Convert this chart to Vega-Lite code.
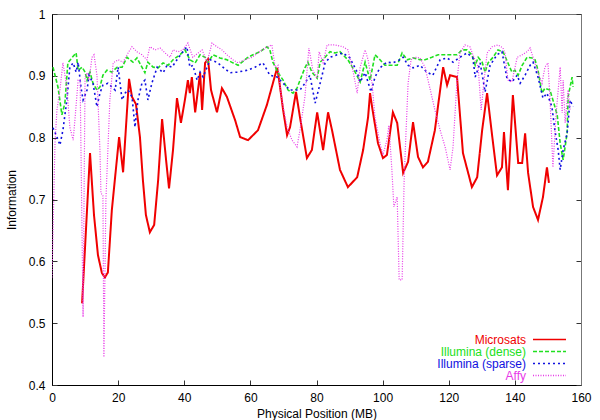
{
"$schema":"https://vega.github.io/schema/vega-lite/v6.json",
"width":529,"height":371,
"autosize":{"type":"none"},
"padding":{"left":52,"top":14,"right":19,"bottom":35},
"background":"white",
"config":{"view":{"stroke":"#777"},"axis":{"grid":false},"font":"Liberation Sans"},
"data":{"values":[
{"series":"Microsats","pos":9.1,"info":0.532},{"series":"Microsats","pos":11.5,"info":0.775},{"series":"Microsats","pos":12.7,"info":0.675},{"series":"Microsats","pos":13.9,"info":0.61},{"series":"Microsats","pos":15.1,"info":0.581},{"series":"Microsats","pos":16.0,"info":0.574},{"series":"Microsats","pos":16.9,"info":0.582},{"series":"Microsats","pos":18.1,"info":0.683},{"series":"Microsats","pos":20.3,"info":0.801},{"series":"Microsats","pos":21.5,"info":0.744},{"series":"Microsats","pos":23.3,"info":0.895},{"series":"Microsats","pos":24.2,"info":0.866},{"series":"Microsats","pos":25.4,"info":0.854},{"series":"Microsats","pos":26.6,"info":0.801},{"series":"Microsats","pos":27.5,"info":0.731},{"series":"Microsats","pos":28.4,"info":0.675},{"series":"Microsats","pos":29.6,"info":0.647},{"series":"Microsats","pos":30.9,"info":0.659},{"series":"Microsats","pos":32.1,"info":0.731},{"series":"Microsats","pos":33.3,"info":0.83},{"series":"Microsats","pos":34.5,"info":0.764},{"series":"Microsats","pos":35.4,"info":0.718},{"series":"Microsats","pos":36.6,"info":0.78},{"series":"Microsats","pos":37.8,"info":0.864},{"series":"Microsats","pos":39.0,"info":0.824},{"series":"Microsats","pos":40.2,"info":0.861},{"series":"Microsats","pos":41.1,"info":0.893},{"series":"Microsats","pos":41.7,"info":0.872},{"series":"Microsats","pos":42.3,"info":0.898},{"series":"Microsats","pos":43.3,"info":0.841},{"series":"Microsats","pos":44.8,"info":0.905},{"series":"Microsats","pos":45.4,"info":0.845},{"series":"Microsats","pos":46.3,"info":0.921},{"series":"Microsats","pos":47.2,"info":0.927},{"series":"Microsats","pos":48.1,"info":0.877},{"series":"Microsats","pos":49.9,"info":0.841},{"series":"Microsats","pos":51.4,"info":0.88},{"series":"Microsats","pos":52.9,"info":0.866},{"series":"Microsats","pos":55.4,"info":0.828},{"series":"Microsats","pos":56.9,"info":0.801},{"series":"Microsats","pos":59.3,"info":0.796},{"series":"Microsats","pos":62.3,"info":0.812},{"series":"Microsats","pos":65.0,"info":0.853},{"series":"Microsats","pos":68.1,"info":0.913},{"series":"Microsats","pos":68.7,"info":0.893},{"series":"Microsats","pos":69.9,"info":0.845},{"series":"Microsats","pos":71.1,"info":0.804},{"series":"Microsats","pos":72.0,"info":0.817},{"series":"Microsats","pos":73.8,"info":0.874},{"series":"Microsats","pos":75.0,"info":0.833},{"series":"Microsats","pos":77.1,"info":0.767},{"series":"Microsats","pos":78.6,"info":0.78},{"series":"Microsats","pos":80.2,"info":0.841},{"series":"Microsats","pos":82.0,"info":0.78},{"series":"Microsats","pos":83.5,"info":0.841},{"series":"Microsats","pos":84.7,"info":0.812},{"series":"Microsats","pos":87.1,"info":0.748},{"series":"Microsats","pos":89.5,"info":0.72},{"series":"Microsats","pos":92.3,"info":0.736},{"series":"Microsats","pos":94.1,"info":0.78},{"series":"Microsats","pos":95.6,"info":0.833},{"series":"Microsats","pos":96.2,"info":0.872},{"series":"Microsats","pos":96.8,"info":0.85},{"series":"Microsats","pos":98.6,"info":0.791},{"series":"Microsats","pos":100.1,"info":0.767},{"series":"Microsats","pos":101.3,"info":0.772},{"series":"Microsats","pos":103.1,"info":0.841},{"series":"Microsats","pos":104.4,"info":0.824},{"series":"Microsats","pos":106.2,"info":0.743},{"series":"Microsats","pos":107.7,"info":0.761},{"series":"Microsats","pos":109.2,"info":0.825},{"series":"Microsats","pos":110.7,"info":0.769},{"series":"Microsats","pos":112.2,"info":0.752},{"series":"Microsats","pos":113.7,"info":0.761},{"series":"Microsats","pos":115.8,"info":0.812},{"series":"Microsats","pos":118.3,"info":0.914},{"series":"Microsats","pos":119.5,"info":0.885},{"series":"Microsats","pos":120.4,"info":0.901},{"series":"Microsats","pos":122.5,"info":0.898},{"series":"Microsats","pos":124.3,"info":0.775},{"series":"Microsats","pos":127.0,"info":0.72},{"series":"Microsats","pos":128.6,"info":0.736},{"series":"Microsats","pos":130.1,"info":0.812},{"series":"Microsats","pos":131.6,"info":0.872},{"series":"Microsats","pos":133.4,"info":0.791},{"series":"Microsats","pos":134.6,"info":0.739},{"series":"Microsats","pos":136.1,"info":0.752},{"series":"Microsats","pos":136.7,"info":0.809},{"series":"Microsats","pos":137.9,"info":0.715},{"series":"Microsats","pos":139.4,"info":0.869},{"series":"Microsats","pos":141.0,"info":0.759},{"series":"Microsats","pos":142.2,"info":0.759},{"series":"Microsats","pos":143.1,"info":0.807},{"series":"Microsats","pos":144.0,"info":0.743},{"series":"Microsats","pos":145.5,"info":0.688},{"series":"Microsats","pos":147.0,"info":0.667},{"series":"Microsats","pos":148.5,"info":0.704},{"series":"Microsats","pos":149.7,"info":0.752},{"series":"Microsats","pos":150.3,"info":0.727},
{"series":"Illumina (dense)","pos":0.3,"info":0.914},{"series":"Illumina (dense)","pos":1.8,"info":0.882},{"series":"Illumina (dense)","pos":3.0,"info":0.837},{"series":"Illumina (dense)","pos":3.9,"info":0.856},{"series":"Illumina (dense)","pos":4.8,"info":0.921},{"series":"Illumina (dense)","pos":6.0,"info":0.929},{"series":"Illumina (dense)","pos":7.3,"info":0.937},{"series":"Illumina (dense)","pos":7.9,"info":0.909},{"series":"Illumina (dense)","pos":9.1,"info":0.914},{"series":"Illumina (dense)","pos":10.0,"info":0.906},{"series":"Illumina (dense)","pos":10.6,"info":0.893},{"series":"Illumina (dense)","pos":11.5,"info":0.906},{"series":"Illumina (dense)","pos":12.4,"info":0.888},{"series":"Illumina (dense)","pos":13.6,"info":0.877},{"series":"Illumina (dense)","pos":14.5,"info":0.882},{"series":"Illumina (dense)","pos":15.4,"info":0.901},{"series":"Illumina (dense)","pos":16.6,"info":0.909},{"series":"Illumina (dense)","pos":18.1,"info":0.906},{"series":"Illumina (dense)","pos":19.7,"info":0.914},{"series":"Illumina (dense)","pos":21.2,"info":0.914},{"series":"Illumina (dense)","pos":22.7,"info":0.93},{"series":"Illumina (dense)","pos":23.6,"info":0.926},{"series":"Illumina (dense)","pos":24.5,"info":0.922},{"series":"Illumina (dense)","pos":25.7,"info":0.929},{"series":"Illumina (dense)","pos":27.2,"info":0.914},{"series":"Illumina (dense)","pos":28.1,"info":0.905},{"series":"Illumina (dense)","pos":29.0,"info":0.922},{"series":"Illumina (dense)","pos":30.6,"info":0.914},{"series":"Illumina (dense)","pos":32.1,"info":0.913},{"series":"Illumina (dense)","pos":33.6,"info":0.921},{"series":"Illumina (dense)","pos":35.1,"info":0.917},{"series":"Illumina (dense)","pos":36.6,"info":0.926},{"series":"Illumina (dense)","pos":38.7,"info":0.934},{"series":"Illumina (dense)","pos":40.2,"info":0.942},{"series":"Illumina (dense)","pos":41.7,"info":0.926},{"series":"Illumina (dense)","pos":43.3,"info":0.921},{"series":"Illumina (dense)","pos":44.8,"info":0.934},{"series":"Illumina (dense)","pos":46.3,"info":0.93},{"series":"Illumina (dense)","pos":47.2,"info":0.922},{"series":"Illumina (dense)","pos":48.7,"info":0.934},{"series":"Illumina (dense)","pos":50.8,"info":0.929},{"series":"Illumina (dense)","pos":52.9,"info":0.926},{"series":"Illumina (dense)","pos":54.7,"info":0.921},{"series":"Illumina (dense)","pos":56.3,"info":0.917},{"series":"Illumina (dense)","pos":59.0,"info":0.929},{"series":"Illumina (dense)","pos":60.8,"info":0.934},{"series":"Illumina (dense)","pos":62.9,"info":0.939},{"series":"Illumina (dense)","pos":65.0,"info":0.947},{"series":"Illumina (dense)","pos":65.9,"info":0.942},{"series":"Illumina (dense)","pos":66.8,"info":0.922},{"series":"Illumina (dense)","pos":68.4,"info":0.905},{"series":"Illumina (dense)","pos":69.9,"info":0.893},{"series":"Illumina (dense)","pos":71.4,"info":0.877},{"series":"Illumina (dense)","pos":72.9,"info":0.872},{"series":"Illumina (dense)","pos":74.1,"info":0.88},{"series":"Illumina (dense)","pos":75.6,"info":0.901},{"series":"Illumina (dense)","pos":76.5,"info":0.913},{"series":"Illumina (dense)","pos":77.4,"info":0.922},{"series":"Illumina (dense)","pos":78.6,"info":0.906},{"series":"Illumina (dense)","pos":80.2,"info":0.896},{"series":"Illumina (dense)","pos":81.1,"info":0.922},{"series":"Illumina (dense)","pos":82.6,"info":0.93},{"series":"Illumina (dense)","pos":84.1,"info":0.939},{"series":"Illumina (dense)","pos":85.6,"info":0.937},{"series":"Illumina (dense)","pos":87.1,"info":0.939},{"series":"Illumina (dense)","pos":88.0,"info":0.934},{"series":"Illumina (dense)","pos":89.5,"info":0.926},{"series":"Illumina (dense)","pos":91.7,"info":0.906},{"series":"Illumina (dense)","pos":93.2,"info":0.89},{"series":"Illumina (dense)","pos":94.7,"info":0.922},{"series":"Illumina (dense)","pos":96.2,"info":0.893},{"series":"Illumina (dense)","pos":97.7,"info":0.934},{"series":"Illumina (dense)","pos":99.2,"info":0.926},{"series":"Illumina (dense)","pos":100.7,"info":0.917},{"series":"Illumina (dense)","pos":102.8,"info":0.917},{"series":"Illumina (dense)","pos":104.4,"info":0.917},{"series":"Illumina (dense)","pos":105.9,"info":0.937},{"series":"Illumina (dense)","pos":107.4,"info":0.926},{"series":"Illumina (dense)","pos":109.2,"info":0.929},{"series":"Illumina (dense)","pos":111.3,"info":0.926},{"series":"Illumina (dense)","pos":112.8,"info":0.926},{"series":"Illumina (dense)","pos":114.9,"info":0.93},{"series":"Illumina (dense)","pos":116.8,"info":0.934},{"series":"Illumina (dense)","pos":119.5,"info":0.934},{"series":"Illumina (dense)","pos":122.5,"info":0.934},{"series":"Illumina (dense)","pos":124.0,"info":0.942},{"series":"Illumina (dense)","pos":125.5,"info":0.942},{"series":"Illumina (dense)","pos":127.0,"info":0.934},{"series":"Illumina (dense)","pos":128.0,"info":0.917},{"series":"Illumina (dense)","pos":128.9,"info":0.93},{"series":"Illumina (dense)","pos":130.1,"info":0.922},{"series":"Illumina (dense)","pos":131.0,"info":0.906},{"series":"Illumina (dense)","pos":131.9,"info":0.921},{"series":"Illumina (dense)","pos":133.4,"info":0.93},{"series":"Illumina (dense)","pos":134.9,"info":0.942},{"series":"Illumina (dense)","pos":136.4,"info":0.939},{"series":"Illumina (dense)","pos":137.9,"info":0.921},{"series":"Illumina (dense)","pos":139.1,"info":0.906},{"series":"Illumina (dense)","pos":140.0,"info":0.909},{"series":"Illumina (dense)","pos":141.0,"info":0.901},{"series":"Illumina (dense)","pos":142.2,"info":0.917},{"series":"Illumina (dense)","pos":143.7,"info":0.93},{"series":"Illumina (dense)","pos":145.2,"info":0.929},{"series":"Illumina (dense)","pos":146.1,"info":0.926},{"series":"Illumina (dense)","pos":147.0,"info":0.909},{"series":"Illumina (dense)","pos":148.2,"info":0.872},{"series":"Illumina (dense)","pos":149.1,"info":0.88},{"series":"Illumina (dense)","pos":150.6,"info":0.877},{"series":"Illumina (dense)","pos":151.5,"info":0.861},{"series":"Illumina (dense)","pos":152.8,"info":0.837},{"series":"Illumina (dense)","pos":153.7,"info":0.791},{"series":"Illumina (dense)","pos":154.6,"info":0.764},{"series":"Illumina (dense)","pos":155.8,"info":0.807},{"series":"Illumina (dense)","pos":156.1,"info":0.866},{"series":"Illumina (dense)","pos":157.3,"info":0.898},{"series":"Illumina (dense)","pos":157.6,"info":0.882},
{"series":"Illumina (sparse)","pos":0.3,"info":0.816},{"series":"Illumina (sparse)","pos":1.5,"info":0.801},{"series":"Illumina (sparse)","pos":2.4,"info":0.788},{"series":"Illumina (sparse)","pos":3.3,"info":0.812},{"series":"Illumina (sparse)","pos":4.5,"info":0.861},{"series":"Illumina (sparse)","pos":5.4,"info":0.914},{"series":"Illumina (sparse)","pos":6.4,"info":0.921},{"series":"Illumina (sparse)","pos":7.3,"info":0.906},{"series":"Illumina (sparse)","pos":7.9,"info":0.922},{"series":"Illumina (sparse)","pos":8.8,"info":0.88},{"series":"Illumina (sparse)","pos":9.4,"info":0.861},{"series":"Illumina (sparse)","pos":10.6,"info":0.877},{"series":"Illumina (sparse)","pos":11.2,"info":0.901},{"series":"Illumina (sparse)","pos":12.4,"info":0.888},{"series":"Illumina (sparse)","pos":13.6,"info":0.85},{"series":"Illumina (sparse)","pos":14.5,"info":0.872},{"series":"Illumina (sparse)","pos":15.4,"info":0.885},{"series":"Illumina (sparse)","pos":16.9,"info":0.888},{"series":"Illumina (sparse)","pos":19.1,"info":0.877},{"series":"Illumina (sparse)","pos":20.0,"info":0.914},{"series":"Illumina (sparse)","pos":21.2,"info":0.861},{"series":"Illumina (sparse)","pos":22.1,"info":0.872},{"series":"Illumina (sparse)","pos":23.0,"info":0.877},{"series":"Illumina (sparse)","pos":24.2,"info":0.866},{"series":"Illumina (sparse)","pos":25.1,"info":0.817},{"series":"Illumina (sparse)","pos":26.0,"info":0.861},{"series":"Illumina (sparse)","pos":27.2,"info":0.888},{"series":"Illumina (sparse)","pos":28.1,"info":0.893},{"series":"Illumina (sparse)","pos":29.0,"info":0.861},{"series":"Illumina (sparse)","pos":30.2,"info":0.888},{"series":"Illumina (sparse)","pos":31.8,"info":0.914},{"series":"Illumina (sparse)","pos":33.6,"info":0.905},{"series":"Illumina (sparse)","pos":34.8,"info":0.917},{"series":"Illumina (sparse)","pos":36.3,"info":0.914},{"series":"Illumina (sparse)","pos":37.8,"info":0.926},{"series":"Illumina (sparse)","pos":39.3,"info":0.937},{"series":"Illumina (sparse)","pos":40.8,"info":0.947},{"series":"Illumina (sparse)","pos":41.7,"info":0.914},{"series":"Illumina (sparse)","pos":42.6,"info":0.917},{"series":"Illumina (sparse)","pos":43.9,"info":0.893},{"series":"Illumina (sparse)","pos":44.8,"info":0.906},{"series":"Illumina (sparse)","pos":45.7,"info":0.898},{"series":"Illumina (sparse)","pos":46.9,"info":0.914},{"series":"Illumina (sparse)","pos":47.8,"info":0.926},{"series":"Illumina (sparse)","pos":49.9,"info":0.922},{"series":"Illumina (sparse)","pos":51.7,"info":0.914},{"series":"Illumina (sparse)","pos":53.8,"info":0.905},{"series":"Illumina (sparse)","pos":56.0,"info":0.906},{"series":"Illumina (sparse)","pos":59.0,"info":0.909},{"series":"Illumina (sparse)","pos":61.4,"info":0.914},{"series":"Illumina (sparse)","pos":63.8,"info":0.921},{"series":"Illumina (sparse)","pos":65.9,"info":0.901},{"series":"Illumina (sparse)","pos":68.1,"info":0.898},{"series":"Illumina (sparse)","pos":69.9,"info":0.888},{"series":"Illumina (sparse)","pos":72.0,"info":0.877},{"series":"Illumina (sparse)","pos":75.0,"info":0.877},{"series":"Illumina (sparse)","pos":76.5,"info":0.888},{"series":"Illumina (sparse)","pos":78.0,"info":0.901},{"series":"Illumina (sparse)","pos":79.6,"info":0.856},{"series":"Illumina (sparse)","pos":81.1,"info":0.888},{"series":"Illumina (sparse)","pos":82.6,"info":0.921},{"series":"Illumina (sparse)","pos":84.1,"info":0.93},{"series":"Illumina (sparse)","pos":86.2,"info":0.934},{"series":"Illumina (sparse)","pos":88.0,"info":0.937},{"series":"Illumina (sparse)","pos":90.1,"info":0.929},{"series":"Illumina (sparse)","pos":92.3,"info":0.906},{"series":"Illumina (sparse)","pos":93.2,"info":0.89},{"series":"Illumina (sparse)","pos":94.7,"info":0.905},{"series":"Illumina (sparse)","pos":96.5,"info":0.874},{"series":"Illumina (sparse)","pos":97.7,"info":0.898},{"series":"Illumina (sparse)","pos":99.2,"info":0.913},{"series":"Illumina (sparse)","pos":101.3,"info":0.922},{"series":"Illumina (sparse)","pos":103.1,"info":0.921},{"series":"Illumina (sparse)","pos":105.3,"info":0.926},{"series":"Illumina (sparse)","pos":106.2,"info":0.93},{"series":"Illumina (sparse)","pos":107.7,"info":0.917},{"series":"Illumina (sparse)","pos":109.2,"info":0.913},{"series":"Illumina (sparse)","pos":111.3,"info":0.917},{"series":"Illumina (sparse)","pos":113.4,"info":0.906},{"series":"Illumina (sparse)","pos":115.2,"info":0.901},{"series":"Illumina (sparse)","pos":117.4,"info":0.926},{"series":"Illumina (sparse)","pos":119.5,"info":0.929},{"series":"Illumina (sparse)","pos":121.3,"info":0.922},{"series":"Illumina (sparse)","pos":123.4,"info":0.93},{"series":"Illumina (sparse)","pos":125.5,"info":0.937},{"series":"Illumina (sparse)","pos":127.3,"info":0.929},{"series":"Illumina (sparse)","pos":128.0,"info":0.898},{"series":"Illumina (sparse)","pos":129.5,"info":0.921},{"series":"Illumina (sparse)","pos":131.0,"info":0.874},{"series":"Illumina (sparse)","pos":132.5,"info":0.917},{"series":"Illumina (sparse)","pos":134.6,"info":0.934},{"series":"Illumina (sparse)","pos":136.1,"info":0.939},{"series":"Illumina (sparse)","pos":137.6,"info":0.896},{"series":"Illumina (sparse)","pos":139.1,"info":0.89},{"series":"Illumina (sparse)","pos":140.7,"info":0.901},{"series":"Illumina (sparse)","pos":141.6,"info":0.888},{"series":"Illumina (sparse)","pos":143.1,"info":0.901},{"series":"Illumina (sparse)","pos":144.6,"info":0.917},{"series":"Illumina (sparse)","pos":145.5,"info":0.922},{"series":"Illumina (sparse)","pos":147.0,"info":0.898},{"series":"Illumina (sparse)","pos":148.5,"info":0.864},{"series":"Illumina (sparse)","pos":149.7,"info":0.872},{"series":"Illumina (sparse)","pos":151.2,"info":0.85},{"series":"Illumina (sparse)","pos":152.1,"info":0.812},{"series":"Illumina (sparse)","pos":153.1,"info":0.78},{"series":"Illumina (sparse)","pos":153.7,"info":0.748},{"series":"Illumina (sparse)","pos":154.6,"info":0.78},{"series":"Illumina (sparse)","pos":155.8,"info":0.807},{"series":"Illumina (sparse)","pos":156.7,"info":0.861},{"series":"Illumina (sparse)","pos":157.6,"info":0.85},
{"series":"Affy","pos":0.0,"info":0.574},{"series":"Affy","pos":0.9,"info":0.791},{"series":"Affy","pos":1.5,"info":0.845},{"series":"Affy","pos":2.4,"info":0.877},{"series":"Affy","pos":3.3,"info":0.921},{"series":"Affy","pos":4.5,"info":0.882},{"series":"Affy","pos":5.4,"info":0.817},{"series":"Affy","pos":6.4,"info":0.796},{"series":"Affy","pos":7.0,"info":0.833},{"series":"Affy","pos":7.9,"info":0.893},{"series":"Affy","pos":8.5,"info":0.893},{"series":"Affy","pos":9.4,"info":0.51},{"series":"Affy","pos":10.0,"info":0.898},{"series":"Affy","pos":10.6,"info":0.905},{"series":"Affy","pos":11.2,"info":0.893},{"series":"Affy","pos":12.1,"info":0.93},{"series":"Affy","pos":12.7,"info":0.934},{"series":"Affy","pos":13.6,"info":0.901},{"series":"Affy","pos":14.5,"info":0.78},{"series":"Affy","pos":14.8,"info":0.71},{"series":"Affy","pos":15.4,"info":0.707},{"series":"Affy","pos":15.7,"info":0.445},{"series":"Affy","pos":16.3,"info":0.699},{"series":"Affy","pos":16.9,"info":0.78},{"series":"Affy","pos":17.5,"info":0.861},{"series":"Affy","pos":18.5,"info":0.921},{"series":"Affy","pos":20.0,"info":0.926},{"series":"Affy","pos":21.5,"info":0.922},{"series":"Affy","pos":23.0,"info":0.937},{"series":"Affy","pos":24.2,"info":0.947},{"series":"Affy","pos":25.7,"info":0.939},{"series":"Affy","pos":27.2,"info":0.934},{"series":"Affy","pos":28.7,"info":0.926},{"series":"Affy","pos":29.6,"info":0.947},{"series":"Affy","pos":31.2,"info":0.942},{"series":"Affy","pos":32.7,"info":0.945},{"series":"Affy","pos":34.2,"info":0.937},{"series":"Affy","pos":35.7,"info":0.93},{"series":"Affy","pos":36.6,"info":0.942},{"series":"Affy","pos":38.1,"info":0.939},{"series":"Affy","pos":39.6,"info":0.942},{"series":"Affy","pos":41.1,"info":0.953},{"series":"Affy","pos":42.6,"info":0.93},{"series":"Affy","pos":44.2,"info":0.937},{"series":"Affy","pos":45.4,"info":0.942},{"series":"Affy","pos":46.9,"info":0.922},{"series":"Affy","pos":48.4,"info":0.953},{"series":"Affy","pos":49.9,"info":0.947},{"series":"Affy","pos":51.4,"info":0.942},{"series":"Affy","pos":52.9,"info":0.934},{"series":"Affy","pos":54.7,"info":0.926},{"series":"Affy","pos":56.3,"info":0.921},{"series":"Affy","pos":58.4,"info":0.926},{"series":"Affy","pos":60.5,"info":0.93},{"series":"Affy","pos":62.3,"info":0.937},{"series":"Affy","pos":64.4,"info":0.945},{"series":"Affy","pos":66.5,"info":0.95},{"series":"Affy","pos":67.5,"info":0.914},{"series":"Affy","pos":68.4,"info":0.917},{"series":"Affy","pos":69.0,"info":0.88},{"series":"Affy","pos":69.9,"info":0.85},{"series":"Affy","pos":71.1,"info":0.817},{"series":"Affy","pos":72.6,"info":0.796},{"series":"Affy","pos":74.1,"info":0.785},{"series":"Affy","pos":75.0,"info":0.812},{"series":"Affy","pos":76.5,"info":0.866},{"series":"Affy","pos":77.7,"info":0.945},{"series":"Affy","pos":78.9,"info":0.909},{"series":"Affy","pos":80.2,"info":0.896},{"series":"Affy","pos":80.8,"info":0.939},{"series":"Affy","pos":82.0,"info":0.921},{"series":"Affy","pos":83.2,"info":0.95},{"series":"Affy","pos":85.6,"info":0.95},{"series":"Affy","pos":88.0,"info":0.947},{"series":"Affy","pos":89.5,"info":0.942},{"series":"Affy","pos":91.0,"info":0.909},{"series":"Affy","pos":92.3,"info":0.872},{"series":"Affy","pos":93.2,"info":0.914},{"series":"Affy","pos":94.7,"info":0.942},{"series":"Affy","pos":95.6,"info":0.926},{"series":"Affy","pos":96.8,"info":0.888},{"series":"Affy","pos":97.7,"info":0.833},{"series":"Affy","pos":99.2,"info":0.791},{"series":"Affy","pos":100.1,"info":0.772},{"series":"Affy","pos":101.3,"info":0.796},{"series":"Affy","pos":101.9,"info":0.82},{"series":"Affy","pos":102.8,"info":0.748},{"series":"Affy","pos":103.4,"info":0.688},{"series":"Affy","pos":104.4,"info":0.704},{"series":"Affy","pos":105.0,"info":0.57},{"series":"Affy","pos":105.9,"info":0.57},{"series":"Affy","pos":106.5,"info":0.731},{"series":"Affy","pos":107.1,"info":0.812},{"series":"Affy","pos":107.7,"info":0.888},{"series":"Affy","pos":108.6,"info":0.926},{"series":"Affy","pos":109.8,"info":0.93},{"series":"Affy","pos":111.3,"info":0.929},{"series":"Affy","pos":112.8,"info":0.914},{"series":"Affy","pos":114.3,"info":0.88},{"series":"Affy","pos":115.8,"info":0.845},{"series":"Affy","pos":117.4,"info":0.812},{"series":"Affy","pos":118.9,"info":0.785},{"series":"Affy","pos":120.4,"info":0.748},{"series":"Affy","pos":121.3,"info":0.785},{"series":"Affy","pos":122.5,"info":0.893},{"series":"Affy","pos":123.4,"info":0.937},{"series":"Affy","pos":124.9,"info":0.95},{"series":"Affy","pos":126.4,"info":0.947},{"series":"Affy","pos":127.6,"info":0.93},{"series":"Affy","pos":128.9,"info":0.914},{"series":"Affy","pos":129.8,"info":0.845},{"series":"Affy","pos":130.7,"info":0.893},{"series":"Affy","pos":131.6,"info":0.937},{"series":"Affy","pos":133.1,"info":0.947},{"series":"Affy","pos":134.9,"info":0.95},{"series":"Affy","pos":136.4,"info":0.945},{"series":"Affy","pos":137.0,"info":0.937},{"series":"Affy","pos":137.9,"info":0.893},{"series":"Affy","pos":139.1,"info":0.89},{"series":"Affy","pos":140.7,"info":0.93},{"series":"Affy","pos":142.2,"info":0.934},{"series":"Affy","pos":143.7,"info":0.939},{"series":"Affy","pos":144.6,"info":0.945},{"series":"Affy","pos":145.5,"info":0.93},{"series":"Affy","pos":147.0,"info":0.905},{"series":"Affy","pos":148.2,"info":0.888},{"series":"Affy","pos":149.1,"info":0.914},{"series":"Affy","pos":150.0,"info":0.921},{"series":"Affy","pos":150.6,"info":0.866},{"series":"Affy","pos":151.2,"info":0.791},{"series":"Affy","pos":151.5,"info":0.752},{"series":"Affy","pos":152.5,"info":0.84},{"series":"Affy","pos":153.1,"info":0.877},{"series":"Affy","pos":153.7,"info":0.914},{"series":"Affy","pos":154.3,"info":0.84},{"series":"Affy","pos":154.6,"info":0.893},{"series":"Affy","pos":155.2,"info":0.824},{"series":"Affy","pos":156.1,"info":0.877},{"series":"Affy","pos":156.7,"info":0.845}
]},
"layer":[
{"mark":{"type":"line","clip":true},
 "encoding":{
  "x":{"field":"pos","type":"quantitative","scale":{"domain":[0,160],"nice":false,"zero":false},
   "axis":{"orient":"bottom","values":[0,20,40,60,80,100,120,140,160],"title":"Physical Position (MB)","tickSize":-5,"labelPadding":12,"domainColor":"#000","tickColor":"#333","labelFont":"Liberation Sans","labelFontSize":12,"labelColor":"#000","titleFont":"Liberation Sans","titleFontSize":12,"titleFontWeight":"normal","titleColor":"#000","titlePadding":5,"labelFlush":false,"labelOverlap":false}},
  "y":{"field":"info","type":"quantitative","scale":{"domain":[0.4,1],"nice":false,"zero":false},
   "axis":{"orient":"left","values":[0.4,0.5,0.6,0.7,0.8,0.9,1],"format":"~g","title":"Information","tickSize":-5,"labelPadding":12,"domainColor":"#000","tickColor":"#333","labelFont":"Liberation Sans","labelFontSize":12,"labelColor":"#000","titleFont":"Liberation Sans","titleFontSize":12,"titleFontWeight":"normal","titleColor":"#000","titlePadding":10,"labelFlush":false,"labelOverlap":false}},
  "color":{"field":"series","type":"nominal","scale":{"domain":["Microsats","Illumina (dense)","Illumina (sparse)","Affy"],"range":["#f00000","#20e020","#1010e0","#e838e8"]},
   "legend":{"title":null,"orient":"none","legendX":387.5,"legendY":319.5,"symbolType":"M-3.3,0H3.3","symbolSize":100,"symbolOffset":104,"labelOffset":-29.5,"labelAlign":"right","labelFont":"Liberation Sans","labelFontSize":12,"labelColor":{"expr":"scale('color', datum.value)"},"rowPadding":0,"padding":0,"symbolStrokeWidth":1.5}},
  "strokeDash":{"field":"series","type":"nominal","scale":{"domain":["Microsats","Illumina (dense)","Illumina (sparse)","Affy"],"range":[[1,0],[4,2],[2,3],[1,1.5]]}},
  "strokeWidth":{"condition":[{"test":"datum.series==='Microsats'","value":2},{"test":"datum.series==='Affy'","value":1.2}],"value":1.6}
 }},
{"mark":{"type":"point","opacity":0},
 "encoding":{
  "x":{"field":"pos","type":"quantitative","axis":{"orient":"top","values":[0,20,40,60,80,100,120,140,160],"labels":false,"title":null,"tickSize":-5,"domainColor":"#777","tickColor":"#333"}},
  "y":{"field":"info","type":"quantitative","axis":{"orient":"right","values":[0.4,0.5,0.6,0.7,0.8,0.9,1],"labels":false,"title":null,"tickSize":-5,"domainColor":"#777","tickColor":"#333"}}}}
],
"resolve":{"axis":{"x":"independent","y":"independent"}}
}
